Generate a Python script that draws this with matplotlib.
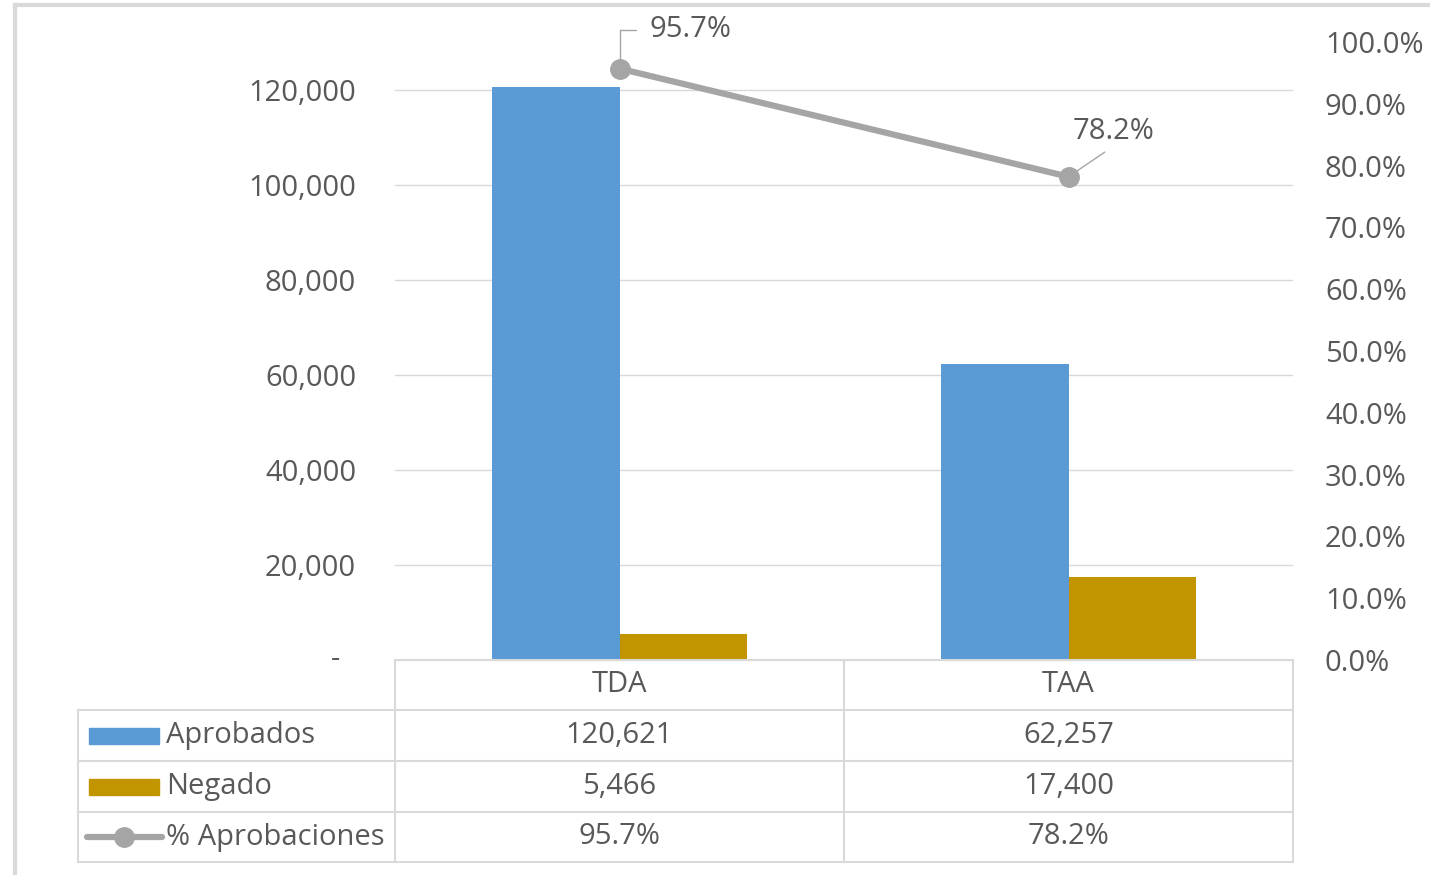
import matplotlib
matplotlib.use('Agg')
import matplotlib.pyplot as plt
from matplotlib.lines import Line2D
from matplotlib.patches import Rectangle
import numpy as np

categories = ['TDA', 'TAA']
aprobados = [120621, 62257]
negado = [5466, 17400]
pct_aprob = [95.7, 78.2]
series_names = ['Aprobados', 'Negado', '% Aprobaciones']

BLUE = '#5B9BD5'
GOLD = '#C29400'
GRAY = '#A5A5A5'
TXT = '#595959'
GRID = '#D9D9D9'

plt.rcParams['font.family'] = ['Open Sans', 'DejaVu Sans']
FS = 21

W, H = 1430, 875
fig = plt.figure(figsize=(W / 100, H / 100), dpi=100)

def fx(x):
    return x / W

def fy(y):
    return 1 - y / H

# plot area in pixel coordinates
L, R, T, B = 395, 1293, 42, 660
ax = fig.add_axes([fx(L), fy(B), fx(R - L), fy(T) - fy(B)])
ax2 = ax.twinx()

x = np.arange(len(categories))
bw = 0.285
ax.bar(x - bw / 2, aprobados, bw, color=BLUE, zorder=2)
ax.bar(x + bw / 2, negado, bw, color=GOLD, zorder=2)
ax.set_xlim(-0.5, len(categories) - 0.5)
ax.set_ylim(0, 130105)
ticks = np.arange(0, 120001, 20000)
ax.set_yticks(ticks)
ax.set_yticklabels([f'{t:,}' if t else '' for t in ticks])
ax.text(-59 / (R - L), 0, '-', transform=ax.get_yaxis_transform(), color=TXT,
        fontsize=FS, ha='center', va='center')
ax.tick_params(axis='y', length=0, pad=28, labelsize=FS, labelcolor=TXT)
ax.set_xticks([])
ax.grid(axis='y', color=GRID, lw=1, zorder=0)
for s in ax.spines.values():
    s.set_visible(False)
ax.spines['bottom'].set_visible(True)
ax.spines['bottom'].set_color(GRID)

ax2.plot(x, pct_aprob, color=GRAY, lw=4.5, marker='o', ms=14, zorder=3)
ax2.set_ylim(0, 100)
ax2.set_yticks(np.arange(0, 101, 10))
ax2.set_yticklabels([f'{v:.1f}%' for v in np.arange(0, 101, 10)])
ax2.tick_params(axis='y', length=0, pad=23, labelsize=FS, labelcolor=TXT)
for s in ax2.spines.values():
    s.set_visible(False)

# data labels with leader lines
ax2.annotate(f'{pct_aprob[0]:.1f}%', xy=(x[0], pct_aprob[0]), xytext=(71, 39),
             textcoords='offset pixels', ha='center', va='center', fontsize=FS, color=TXT,
             arrowprops=dict(arrowstyle='-', color=GRAY, lw=1, shrinkA=8, shrinkB=0,
                             connectionstyle='angle,angleA=0,angleB=90,rad=0'))
ax2.annotate(f'{pct_aprob[1]:.1f}%', xy=(x[1], pct_aprob[1]), xytext=(45, 45),
             textcoords='offset pixels', ha='center', va='center', fontsize=FS, color=TXT,
             arrowprops=dict(arrowstyle='-', color=GRAY, lw=1, shrinkA=4, shrinkB=7,
                             relpos=(0.5, 0)))

# data table
col_x = [78, 395, 844, 1293]
row_y = [660, 710, 761, 812, 862]

def hline(y, x0, x1):
    fig.add_artist(Line2D([fx(x0), fx(x1)], [fy(y), fy(y)], color=GRID, lw=1.5))

def vline(xp, y0, y1):
    fig.add_artist(Line2D([fx(xp), fx(xp)], [fy(y0), fy(y1)], color=GRID, lw=1.5))

hline(row_y[0], col_x[1], col_x[3])
for y in row_y[1:]:
    hline(y, col_x[0], col_x[3])
vline(col_x[0], row_y[1], row_y[4])
for xp in col_x[1:]:
    vline(xp, row_y[0], row_y[4])

for i, c in enumerate(categories):
    cx = (col_x[i + 1] + col_x[i + 2]) / 2
    fig.text(fx(cx), fy((row_y[0] + row_y[1]) / 2), c, ha='center', va='center',
             fontsize=FS, color=TXT)
    vals = [f'{aprobados[i]:,}', f'{negado[i]:,}', f'{pct_aprob[i]:.1f}%']
    for r, v in enumerate(vals):
        fig.text(fx(cx), fy((row_y[r + 1] + row_y[r + 2]) / 2), v, ha='center',
                 va='center', fontsize=FS, color=TXT)

for r, name in enumerate(series_names):
    cy = (row_y[r + 1] + row_y[r + 2]) / 2
    fig.text(fx(166), fy(cy), name, ha='left', va='center', fontsize=FS, color=TXT)
    if r < 2:
        fig.add_artist(Rectangle((fx(89), fy(cy + 8)), fx(70), fy(cy - 8) - fy(cy + 8),
                                 color=[BLUE, GOLD][r]))
    else:
        fig.add_artist(Line2D([fx(87), fx(162)], [fy(cy), fy(cy)], color=GRAY, lw=4.5,
                              solid_capstyle='round'))
        fig.add_artist(Line2D([fx(124)], [fy(cy)], color=GRAY, marker='o', ms=14))

# chart border
fig.add_artist(Line2D([fx(15), fx(15)], [fy(5), 0], color=GRID, lw=3))
fig.add_artist(Line2D([fx(15), fx(1428)], [fy(5), fy(5)], color=GRID, lw=3))

fig.savefig('out.png', dpi=100)
